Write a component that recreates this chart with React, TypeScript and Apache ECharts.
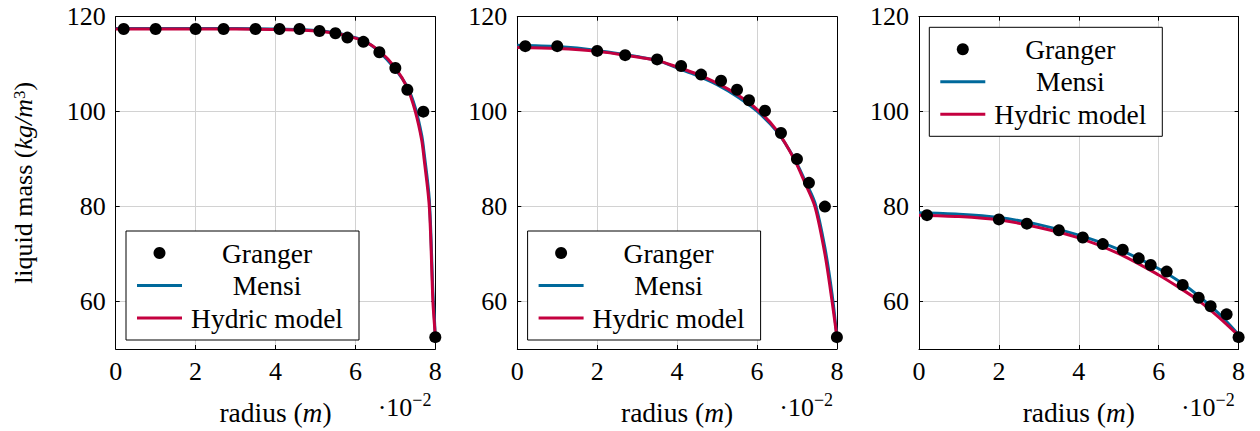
import React, { useEffect, useRef } from "react";
import * as echarts from "echarts";

// ---- data ----
const seriesNames = ["Granger", "Mensi", "Hydric model"];
const xTickLabels = [0, 2, 4, 6, 8];
const yTickLabels = [60, 80, 100, 120];
const xGridValues = [2, 4, 6];
const yGridValues = [60, 80, 100];

const grangerX = [0.2, 1, 2, 2.7, 3.5, 4.1, 4.6, 5.1, 5.5, 5.8, 6.2, 6.6, 7.0, 7.3, 7.7, 8.0];
const granger1 = [117.4, 117.4, 117.4, 117.4, 117.4, 117.4, 117.4, 117.0, 116.5, 115.6, 114.7, 112.5, 109.2, 104.6, 100.0, 52.5];
const granger2 = [113.8, 113.8, 112.8, 111.9, 111.0, 109.6, 107.8, 106.5, 104.6, 102.4, 100.2, 95.5, 90.0, 85.0, 80.0, 52.5];
const grangerX3 = [0.2, 2, 2.7, 3.5, 4.1, 4.6, 5.1, 5.5, 5.8, 6.2, 6.6, 7.0, 7.3, 7.7, 8.0];
const granger3 = [78.2, 77.3, 76.4, 75.0, 73.5, 72.1, 70.9, 69.1, 67.7, 66.3, 63.5, 60.8, 59.0, 57.3, 52.5];

const modelX1 = [0, 1, 2, 3, 4, 4.5, 5, 5.5, 5.8, 6.2, 6.6, 7.0, 7.3, 7.5, 7.66, 7.72, 7.85, 7.94, 7.98, 8.0];
const mensi1 = [117.5, 117.5, 117.5, 117.5, 117.4, 117.3, 117.1, 116.6, 116.0, 115.0, 112.6, 108.9, 105.2, 100.8, 95.0, 91.3, 81.5, 62.0, 56.0, 52.5];
const hydric1 = [117.4, 117.4, 117.4, 117.4, 117.3, 117.2, 117.0, 116.5, 115.9, 114.9, 112.8, 109.2, 105.0, 100.0, 94.0, 90.0, 80.0, 60.0, 55.0, 52.5];

const modelX2 = [0, 1, 2, 3, 3.5, 4, 4.5, 5, 5.5, 6, 6.5, 6.93, 7.2, 7.45, 7.7, 7.88, 8.0];
const mensi2 = [114.0, 113.7, 112.9, 111.6, 110.8, 109.2, 107.6, 105.7, 103.2, 100.1, 95.8, 90.2, 85.5, 80.8, 71.3, 61.5, 52.5];
const hydric2 = [113.5, 113.3, 112.7, 111.5, 110.8, 109.4, 107.9, 106.0, 103.6, 100.5, 96.0, 90.0, 85.0, 80.0, 70.0, 60.0, 52.5];

const modelX3 = [0, 1, 2, 3, 4, 5, 6, 6.5, 7, 7.5, 8];
const mensi3 = [78.7, 78.4, 77.7, 76.2, 74.0, 71.0, 66.9, 64.3, 61.2, 57.5, 53.0];
const hydric3 = [78.2, 77.9, 77.2, 75.6, 73.4, 70.1, 65.6, 63.0, 60.2, 56.7, 52.8];

// ---- style / layout ----
const FONT = "Liberation Serif";
const FS = 26;
const FS_TEXT = 27.5;
const BLUE = "#00699b";
const RED = "#c4003f";
const GRID_LEFTS = [115.7, 517.3, 919];
const GRID_W = 319.6;
const GRID_TOP = 16.7;
const GRID_H = 334.3;
const LEGEND_TOPS = [231, 231, 27.3];

const zip = (xs: number[], ys: number[]) => xs.map((x, i) => [x, ys[i]]);

function buildOption() {
  const panels = [
    { gx: grangerX, gy: granger1, mx: modelX1, my: mensi1, hy: hydric1 },
    { gx: grangerX, gy: granger2, mx: modelX2, my: mensi2, hy: hydric2 },
    { gx: grangerX3, gy: granger3, mx: modelX3, my: mensi3, hy: hydric3 },
  ];
  const grid: any[] = [];
  const xAxis: any[] = [];
  const yAxis: any[] = [];
  const series: any[] = [];
  const graphic: any[] = [];

  panels.forEach((p, i) => {
    const L = GRID_LEFTS[i];
    grid.push({ left: L, top: GRID_TOP, width: GRID_W, height: GRID_H, containLabel: false });
    xAxis.push({
      type: "value",
      gridIndex: i,
      min: 0,
      max: 8,
      interval: 2,
      position: "bottom",
      name: "radius ({i|m})",
      nameLocation: "middle",
      nameGap: 49,
      nameTextStyle: {
        fontFamily: FONT,
        fontSize: FS_TEXT,
        color: "#000",
        rich: { i: { fontFamily: FONT, fontSize: FS_TEXT, fontStyle: "italic", color: "#000" } },
      },
      axisLine: { show: true, onZero: false, lineStyle: { color: "#000", width: 1 } },
      axisTick: { show: true, inside: true, length: 4, customValues: xGridValues, lineStyle: { color: "#000" } },
      axisLabel: { show: true, margin: 9, customValues: xTickLabels, fontFamily: FONT, fontSize: FS, color: "#000" },
      splitLine: { show: true, lineStyle: { color: "#d2d2d2", width: 1 } },
    });
    xAxis.push({
      type: "value",
      gridIndex: i,
      min: 0,
      max: 8,
      interval: 2,
      position: "top",
      axisLine: { show: true, onZero: false, lineStyle: { color: "#000", width: 1 } },
      axisTick: { show: true, inside: true, length: 4, customValues: xGridValues, lineStyle: { color: "#000" } },
      axisLabel: { show: false },
      splitLine: { show: false },
    });
    yAxis.push({
      type: "value",
      gridIndex: i,
      min: 50,
      max: 120,
      position: "left",
      name: i === 0 ? "liquid mass ({i|kg/m}{s|3})" : "",
      nameLocation: "middle",
      nameGap: 79,
      nameTextStyle: {
        fontFamily: FONT,
        fontSize: FS,
        color: "#000",
        rich: {
          i: { fontFamily: FONT, fontSize: FS, fontStyle: "italic", color: "#000" },
          s: { fontFamily: FONT, fontSize: 17, color: "#000", verticalAlign: "top" },
        },
      },
      axisLine: { show: true, onZero: false, lineStyle: { color: "#000", width: 1 } },
      axisTick: { show: true, inside: true, length: 4, customValues: yGridValues, lineStyle: { color: "#000" } },
      axisLabel: { show: true, margin: 10, customValues: yTickLabels, fontFamily: FONT, fontSize: FS, color: "#000" },
      splitLine: { show: true, lineStyle: { color: "#d2d2d2", width: 1 } },
    });
    yAxis.push({
      type: "value",
      gridIndex: i,
      min: 50,
      max: 120,
      position: "right",
      axisLine: { show: true, onZero: false, lineStyle: { color: "#000", width: 1 } },
      axisTick: { show: true, inside: true, length: 4, customValues: yGridValues, lineStyle: { color: "#000" } },
      axisLabel: { show: false },
      splitLine: { show: false },
    });

    const xi = i * 2;
    const yi = i * 2;
    series.push({
      name: seriesNames[1],
      type: "line",
      xAxisIndex: xi,
      yAxisIndex: yi,
      data: zip(p.mx, p.my),
      showSymbol: false,
      smooth: 0.3,
      lineStyle: { color: BLUE, width: 3 },
      z: 2,
    });
    series.push({
      name: seriesNames[2],
      type: "line",
      xAxisIndex: xi,
      yAxisIndex: yi,
      data: zip(p.mx, p.hy),
      showSymbol: false,
      smooth: 0.3,
      lineStyle: { color: RED, width: 3 },
      z: 3,
    });
    series.push({
      name: seriesNames[0],
      type: "scatter",
      xAxisIndex: xi,
      yAxisIndex: yi,
      data: zip(p.gx, p.gy),
      symbol: "circle",
      symbolSize: 12,
      itemStyle: { color: "#000", opacity: 1 },
      z: 5,
    });

    const T = LEGEND_TOPS[i];
    const rowY = [T + 22, T + 54.5, T + 87];
    graphic.push({
      type: "rect",
      shape: { x: L + 10.3, y: T, width: 233, height: 109 },
      style: { fill: "#fff", stroke: "#000", lineWidth: 1 },
      z: 100,
    });
    graphic.push({
      type: "circle",
      shape: { cx: L + 43.8, cy: rowY[0], r: 6 },
      style: { fill: "#000" },
      z: 101,
    });
    graphic.push({
      type: "line",
      shape: { x1: L + 21.3, y1: rowY[1], x2: L + 66.3, y2: rowY[1] },
      style: { stroke: BLUE, lineWidth: 3 },
      z: 101,
    });
    graphic.push({
      type: "line",
      shape: { x1: L + 21.3, y1: rowY[2], x2: L + 66.3, y2: rowY[2] },
      style: { stroke: RED, lineWidth: 3 },
      z: 101,
    });
    seriesNames.forEach((nm, k) => {
      graphic.push({
        type: "text",
        x: L + 151.3,
        y: rowY[k],
        style: { text: nm, fontFamily: FONT, fontSize: FS_TEXT, fill: "#000", align: "center", verticalAlign: "middle" },
        z: 101,
      });
    });
    const R = L + GRID_W;
    graphic.push({
      type: "text",
      x: R - 23,
      y: 407,
      style: { text: "·10", fontFamily: FONT, fontSize: FS, fill: "#000", align: "right", verticalAlign: "middle" },
      z: 101,
    });
    graphic.push({
      type: "text",
      x: R - 23,
      y: 400,
      style: { text: "−2", fontFamily: FONT, fontSize: 18, fill: "#000", align: "left", verticalAlign: "middle" },
      z: 101,
    });
  });

  return {
    animation: false,
    backgroundColor: "#fff",
    grid,
    xAxis,
    yAxis,
    series,
    graphic,
  };
}

export default function App() {
  const ref = useRef<HTMLDivElement>(null);
  useEffect(() => {
    if (!ref.current) return;
    const chart = echarts.init(ref.current, undefined, { renderer: "svg" });
    chart.setOption(buildOption() as any);
    return () => chart.dispose();
  }, []);
  return (
    <div
      ref={ref}
      style={{ position: "fixed", left: 0, top: 0, width: 1260, height: 431, background: "#fff" }}
    />
  );
}
